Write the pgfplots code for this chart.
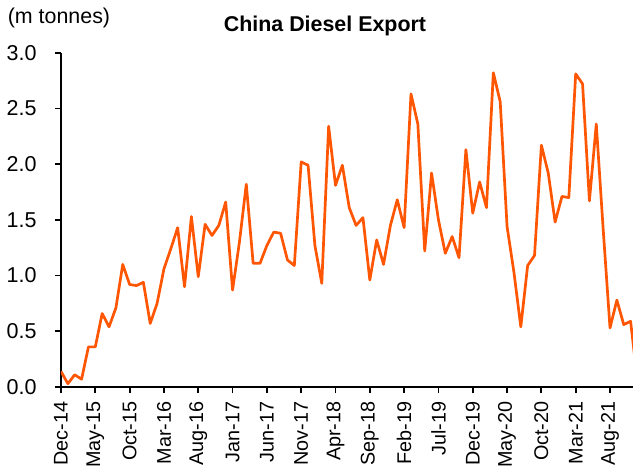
\documentclass[border=0pt]{standalone}
\usepackage{fontspec}
\setmainfont{Liberation Sans}
\usepackage{pgfplots}
\pgfplotsset{compat=1.18}
\definecolor{lineorange}{RGB}{255,86,4}
\begin{document}
\begin{tikzpicture}
\begin{axis}[
  scale only axis,
  width=572pt, height=334.3pt,
  at={(0pt,0pt)}, anchor=south west,
  xmin=0, xmax=83.35, ymin=0, ymax=3,
  axis x line*=bottom, axis y line*=left,
  axis line style={line width=1.8pt, black},
  tick align=outside,
  major tick length=6pt,
  every tick/.style={black, line width=1.8pt},
  xtick={0,5,...,80},
  xticklabels={Dec-14,May-15,Oct-15,Mar-16,Aug-16,Jan-17,Jun-17,Nov-17,Apr-18,Sep-18,Feb-19,Jul-19,Dec-19,May-20,Oct-20,Mar-21,Aug-21},
  x tick label style={rotate=90, anchor=east, font=\fontsize{19.8}{20}\selectfont},
  xticklabel shift=5pt,
  ytick={0,0.5,1,1.5,2,2.5,3},
  y tick label style={font=\fontsize{21.5}{22}\selectfont, /pgf/number format/fixed, /pgf/number format/fixed zerofill, /pgf/number format/precision=1},
  /pgf/number format/assume math mode=true,
  yticklabel shift=15pt,
]
\addplot[lineorange, line width=2.7pt, line join=round] table {
x y
0 0.14
1 0.03
2 0.11
3 0.07
4 0.36
5 0.36
6 0.66
7 0.54
8 0.71
9 1.10
10 0.92
11 0.91
12 0.94
13 0.57
14 0.75
15 1.06
16 1.24
17 1.43
18 0.90
19 1.53
20 0.99
21 1.46
22 1.36
23 1.45
24 1.66
25 0.87
26 1.30
27 1.82
28 1.11
29 1.11
30 1.27
31 1.39
32 1.38
33 1.14
34 1.09
35 2.02
36 1.99
37 1.27
38 0.93
39 2.34
40 1.81
41 1.99
42 1.61
43 1.45
44 1.52
45 0.96
46 1.32
47 1.10
48 1.45
49 1.68
50 1.43
51 2.63
52 2.36
53 1.22
54 1.92
55 1.50
56 1.20
57 1.35
58 1.16
59 2.13
60 1.56
61 1.84
62 1.61
63 2.82
64 2.56
65 1.44
66 1.03
67 0.54
68 1.09
69 1.18
70 2.17
71 1.92
72 1.48
73 1.71
74 1.70
75 2.81
76 2.72
77 1.67
78 2.36
79 1.42
80 0.53
81 0.78
82 0.56
83 0.59
84 0.05
};
\end{axis}
\node[font=\fontsize{21.4}{22}\selectfont\bfseries, anchor=base] at (264pt,355.3pt) {China Diesel Export};
\node[font=\fontsize{21.4}{22}\selectfont, anchor=base] at (-2pt,363.5pt) {(m tonnes)};
\pgfresetboundingbox
\path (-61pt,-88pt) rectangle (572pt,387pt);
\end{tikzpicture}
\end{document}
